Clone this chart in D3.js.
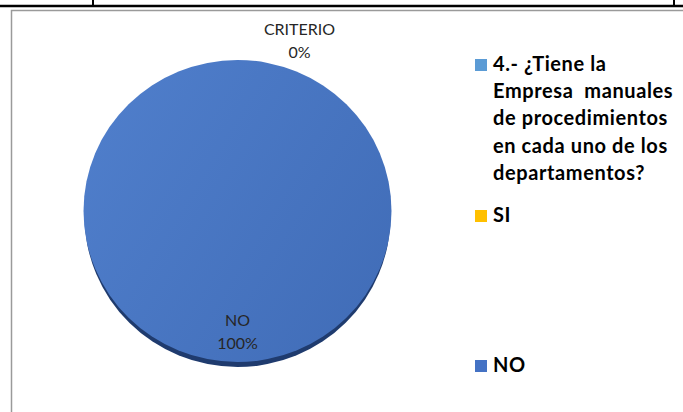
<!DOCTYPE html>
<html>
<head>
<meta charset="utf-8">
<script src="https://cdn.jsdelivr.net/npm/d3@7"></script>
<style>
  body { margin: 0; background: #fff; }
  svg { display: block; }
</style>
</head>
<body>
<div id="chart"></div>
<script>
// data
const categories = ["4.- ¿Tiene la Empresa  manuales de procedimientos en cada uno de los departamentos?", "SI", "NO"];
const legendLines = [
  ["4.- ¿Tiene la", "Empresa  manuales", "de procedimientos", "en cada uno de los", "departamentos?"],
  ["SI"],
  ["NO"]
];
const values = [0, 0, 100];
const pieLabels = ["CRITERIO", null, "NO"];
const colors = ["#5b9bd5", "#ffc000", "#4472c4"];

const W = 683, H = 412;
const svg = d3.select("#chart").append("svg")
  .attr("width", W)
  .attr("height", H);

const defs = svg.append("defs");
const grad = defs.append("linearGradient")
  .attr("id", "face")
  .attr("x1", "0%").attr("y1", "20%")
  .attr("x2", "100%").attr("y2", "80%");
grad.append("stop").attr("offset", "0%").attr("stop-color", "#4f7ecb");
grad.append("stop").attr("offset", "100%").attr("stop-color", "#416db8");

// table lines above the chart
svg.append("line")
  .attr("x1", 0).attr("x2", W).attr("y1", 6).attr("y2", 6)
  .attr("stroke", "#000").attr("stroke-width", 2.5);
[93, 674].forEach(function(x) {
  svg.append("line")
    .attr("x1", x).attr("x2", x).attr("y1", 0).attr("y2", 6)
    .attr("stroke", "#000").attr("stroke-width", 2);
});

// chart area border
svg.append("rect")
  .attr("x", 11.5).attr("y", 10.5)
  .attr("width", 720).attr("height", 440)
  .attr("fill", "#fff")
  .attr("stroke", "#9a9a9a").attr("stroke-width", 1.5);

// pie
const cx = 237.5, cy = 211, R = 154, ry = 151;
const pie = d3.pie().sort(null).value(function(d) { return d; });
const arcs = pie(values);
const arc = d3.arc().innerRadius(0).outerRadius(R);
const total = d3.sum(values);

const g = svg.append("g").attr("transform", "translate(" + cx + "," + cy + ")");

// 3D rim underneath
g.append("ellipse")
  .attr("cx", 0).attr("cy", 5)
  .attr("rx", R - 1).attr("ry", ry)
  .attr("fill", "#1f3b6e");

const face = g.append("g").attr("transform", "scale(1," + (ry / R) + ")");
face.selectAll("path")
  .data(arcs)
  .enter()
  .append("path")
  .attr("d", arc)
  .attr("fill", function(d, i) { return i === 2 ? "url(#face)" : colors[i]; });

// data labels
const fmt = d3.format(".0%");
const labelArc = d3.arc().innerRadius(R * 0.8).outerRadius(R * 0.8);
const outArc = d3.arc().innerRadius(R * 1.07).outerRadius(R * 1.07);

arcs.forEach(function(d, i) {
  if (!pieLabels[i]) return;
  const pct = fmt(d.data / total);
  let x, y;
  if (d.endAngle - d.startAngle > 0.3) {
    const c = labelArc.centroid(d);
    x = c[0]; y = c[1] * ry / R - 6;
  } else {
    const c = outArc.centroid(d);
    x = c[0] + 62; y = c[1] * ry / R - 14;
  }
  const t = g.append("text")
    .attr("x", x).attr("y", y)
    .attr("text-anchor", "middle")
    .attr("font-family", "Lato, 'Open Sans', sans-serif")
    .attr("font-size", 16)
    .attr("fill", "#262626");
  t.append("tspan").attr("x", x).attr("dy", 0).text(pieLabels[i]);
  t.append("tspan").attr("x", x).attr("dy", 23).text(pct);
});

// legend
const legendX = 475;
const legendTops = [71, 222, 372];
const leg = svg.append("g");
legendLines.forEach(function(lines, i) {
  const base = legendTops[i];
  leg.append("rect")
    .attr("x", legendX).attr("y", base - 12)
    .attr("width", 12).attr("height", 12)
    .attr("fill", colors[i]);
  const t = leg.append("text")
    .attr("font-family", "Lato, 'Open Sans', sans-serif")
    .attr("font-weight", "bold")
    .attr("font-size", 20)
    .attr("letter-spacing", 0.6)
    .attr("fill", "#000")
    .attr("xml:space", "preserve");
  lines.forEach(function(s, j) {
    t.append("tspan")
      .attr("x", legendX + 18)
      .attr("y", base + j * 27.2)
      .text(s);
  });
});
</script>
</body>
</html>
